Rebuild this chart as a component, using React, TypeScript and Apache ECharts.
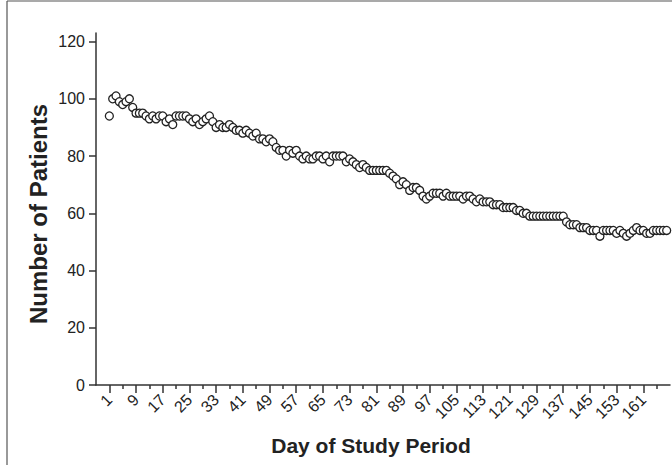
import React, { useEffect, useRef } from "react";
import * as echarts from "echarts";

const startDay = 1;
const patients: number[] = [
  94, 100, 101, 99, 98, 99, 100, 97, 95, 95,
  95, 94, 93, 94, 93, 94, 94, 92, 93, 91,
  94, 94, 94, 94, 93, 92, 93, 91, 92, 93,
  94, 92, 90, 91, 90, 90, 91, 90, 89, 89,
  88, 89, 88, 87, 88, 86, 86, 85, 86, 85,
  83, 82, 82, 80, 82, 81, 82, 80, 79, 80,
  79, 79, 80, 80, 79, 80, 78, 80, 80, 80,
  80, 78, 79, 78, 77, 76, 77, 76, 75, 75,
  75, 75, 75, 75, 74, 73, 72, 70, 71, 70,
  68, 69, 69, 68, 66, 65, 66, 67, 67, 67,
  66, 67, 66, 66, 66, 66, 65, 66, 66, 65,
  64, 65, 64, 64, 64, 63, 63, 63, 62, 62,
  62, 62, 61, 61, 60, 60, 59, 59, 59, 59,
  59, 59, 59, 59, 59, 59, 59, 57, 56, 56,
  56, 55, 55, 55, 54, 54, 54, 52, 54, 54,
  54, 54, 53, 54, 53, 52, 53, 54, 55, 54,
  54, 53, 53, 54, 54, 54, 54, 54,
];
const labelDays: number[] = [1, 9, 17, 25, 33, 41, 49, 57, 65, 73, 81, 89, 97, 105, 113, 121, 129, 137, 145, 153, 161];
const minorTickDays: number[] = [5, 13, 21, 29, 37, 45, 53, 61, 69, 77, 85, 93, 101, 109, 117, 125, 133, 141, 149, 157, 165];
const yTicks: number[] = [0, 20, 40, 60, 80, 100, 120];
const xTitle = "Day of Study Period";
const yTitle = "Number of Patients";

export default function App() {
  const ref = useRef<HTMLDivElement>(null);
  useEffect(() => {
    if (!ref.current) return;
    const chart = echarts.init(ref.current, undefined, { renderer: "svg" });
    const data = patients.map((v, i) => [startDay + i, v]);
    const font = "Liberation Sans, Arial, sans-serif";
    const axisColor = "#333";
    chart.setOption({
      animation: false,
      backgroundColor: "#fff",
      grid: { left: 96, right: 2, top: 33, bottom: 80, containLabel: false, outerBoundsMode: "none" },
      xAxis: [
        {
          type: "value",
          min: -3,
          max: 169,
          splitLine: { show: false },
          axisLine: { show: true, onZero: false, lineStyle: { color: axisColor, width: 1.5 } },
          axisTick: { show: true, customValues: labelDays, length: 8, lineStyle: { color: axisColor, width: 1.5 } },
          axisLabel: {
            customValues: labelDays,
            rotate: 45,
            margin: 12,
            color: "#222",
            fontFamily: font,
            fontSize: 16,
          },
        },
        {
          type: "value",
          min: -3,
          max: 169,
          position: "bottom",
          splitLine: { show: false },
          axisLine: { show: false, onZero: false },
          axisTick: { show: true, customValues: minorTickDays, length: 4, lineStyle: { color: axisColor, width: 1.5 } },
          axisLabel: { show: false },
        },
      ],
      yAxis: {
        type: "value",
        min: 0,
        max: 123,
        splitLine: { show: false },
        axisLine: { show: true, onZero: false, lineStyle: { color: axisColor, width: 1.5 } },
        axisTick: { show: true, customValues: yTicks, length: 7, lineStyle: { color: axisColor, width: 1.5 } },
        axisLabel: {
          customValues: yTicks,
          margin: 11,
          color: "#222",
          fontFamily: font,
          fontSize: 16,
        },
      },
      graphic: [
        { type: "line", shape: { x1: 7, y1: 1, x2: 672, y2: 1 }, style: { stroke: "#555", lineWidth: 1.2 } },
        { type: "line", shape: { x1: 7, y1: 1, x2: 7, y2: 465 }, style: { stroke: "#555", lineWidth: 1.2 } },
        {
          type: "text",
          x: 371,
          y: 445,
          style: {
            text: xTitle,
            align: "center",
            verticalAlign: "middle",
            fontFamily: font,
            fontWeight: "bold",
            fontSize: 21,
            fill: "#222",
          },
        },
        {
          type: "text",
          x: 38,
          y: 214,
          rotation: Math.PI / 2,
          style: {
            text: yTitle,
            align: "center",
            verticalAlign: "middle",
            fontFamily: font,
            fontWeight: "bold",
            fontSize: 24,
            fill: "#222",
          },
        },
      ],
      series: [
        {
          type: "scatter",
          xAxisIndex: 0,
          data,
          symbol: "circle",
          symbolSize: 8,
          itemStyle: { color: "#fff", borderColor: "#222", borderWidth: 1.3, opacity: 1 },
        },
      ],
    });
    return () => chart.dispose();
  }, []);
  return <div ref={ref} style={{ position: "absolute", left: 0, top: 0, width: 672, height: 465 }} />;
}
